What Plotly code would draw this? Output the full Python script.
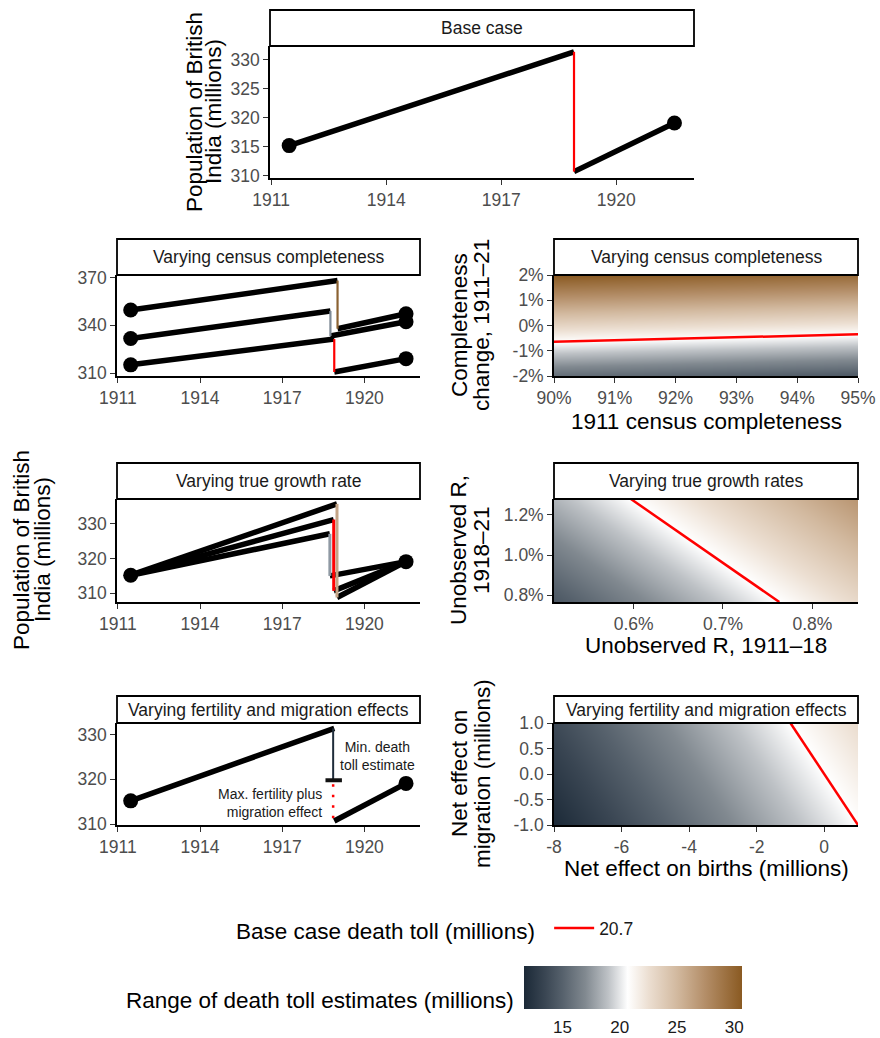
import plotly.graph_objects as go

W, H = 880, 1038
FONT = "Liberation Sans, Arial, Helvetica, sans-serif"

# ---------------- data ----------------
year_ticks = [1911, 1914, 1917, 1920]
year_range = [1910.97, 1922.03]
t_1911, t_1921 = 1911.47, 1921.52

# Base case
base_drop_t = 1918.90
base_pop_1911 = 315.2
base_pop_peak = 331.4
base_pop_trough = 310.7
base_pop_1921 = 319.1
base_death_toll = 20.7

# Varying census completeness (three scenarios)
comp_drop_t = [1919.02, 1918.76, 1918.90]
comp_pop_1911 = [349.6, 331.7, 315.2]
comp_pop_peak = [368.1, 349.0, 331.4]
comp_pop_trough = [337.9, 333.3, 310.7]
comp_pop_1921 = [347.3, 342.3, 319.1]
comp_drop_color = ["#8b6232", "#7e8a96", "#ff0000"]

# Varying true growth rate (three scenarios)
growth_drop_t = [1919.00, 1918.74, 1918.88]
growth_pop_peak = [335.7, 327.1, 331.2]
growth_pop_trough = [308.8, 315.0, 310.7]
growth_drop_color = ["#c4a587", "#8f99a3", "#ff0000"]

# Varying fertility and migration effects
fert_drop_t = 1918.86
fert_min_level = 319.8
fert_cap_x = [1918.58, 1919.18]
fert_label_min = "Min. death<br>toll estimate"
fert_label_min_pos = (1920.47, 325.3)
fert_label_max = "Max. fertility plus<br>migration effect"
fert_label_max_pos = (1918.52, 314.8)

# Heatmap: census completeness
comp_hm_x = [0.90, 0.95]
comp_hm_y = [-0.02, 0.0, 0.02]
comp_hm_z = [[15.6, 14.5], [23.1, 22.0], [30.7, 29.6]]
comp_line_x = [0.90, 0.95]
comp_line_y = [-0.0064, -0.0035]
comp_x_ticks = [0.90, 0.91, 0.92, 0.93, 0.94, 0.95]
comp_x_text = ["90%", "91%", "92%", "93%", "94%", "95%"]
comp_y_ticks = [-0.02, -0.01, 0.0, 0.01, 0.02]
comp_y_text = ["-2%", "-1%", "0%", "1%", "2%"]

# Heatmap: growth rates
gr_hm_x = [0.00511, 0.00851]
gr_hm_y = [0.00766, 0.01279]
gr_hm_z = [[14.4, 22.9], [18.55, 27.05]]
gr_line_x = [0.00597, 0.00763]
gr_line_y = [0.01279, 0.00766]
gr_x_ticks = [0.006, 0.007, 0.008]
gr_x_text = ["0.6%", "0.7%", "0.8%"]
gr_y_ticks = [0.008, 0.010, 0.012]
gr_y_text = ["0.8%", "1.0%", "1.2%"]

# Heatmap: fertility & migration
fm_hm_x = [-8.0, 1.0]
fm_hm_y = [-1.0, 1.0]
fm_hm_z = [[11.7, 20.7], [13.7, 22.7]]
fm_line_x = [-1.0, 1.0]
fm_line_y = [1.0, -1.0]
fm_x_ticks = [-8, -6, -4, -2, 0]
fm_x_text = ["-8", "-6", "-4", "-2", "0"]
fm_y_ticks = [-1.0, -0.5, 0.0, 0.5, 1.0]
fm_y_text = ["-1.0", "-0.5", "0.0", "0.5", "1.0"]

# colour scale for death toll (millions)
toll_min, toll_max = 11.65, 30.67
cs_vals = [11.65, 13.5, 15, 17, 19, 20.7, 22.5, 25, 27.5, 30.67]
cs_cols = ["#1b2937", "#3a4653", "#56616c", "#818990", "#bec2c6", "#ffffff",
           "#ecdfd2", "#d2b99f", "#b38d67", "#8a5a22"]
cbar_ticks = [15, 20, 25, 30]

# ---------------- layout geometry (pixels) ----------------
panels = {
    # name: (x0, x1, plot_top, plot_bottom, strip_top)
    "base": (270, 694, 46, 178, 10),
    "comp": (117, 420, 275, 376, 239),
    "comp_hm": (554, 858, 275, 376, 239),
    "grow": (117, 420, 499, 602, 463),
    "grow_hm": (554, 858, 499, 602, 463),
    "fert": (117, 420, 723, 825, 696),
    "fert_hm": (554, 858, 723, 825, 696),
}
strip_titles = {
    "base": "Base case",
    "comp": "Varying census completeness",
    "comp_hm": "Varying census completeness",
    "grow": "Varying true growth rate",
    "grow_hm": "Varying true growth rates",
    "fert": "Varying fertility and migration effects",
    "fert_hm": "Varying fertility and migration effects",
}
order = ["base", "comp", "comp_hm", "grow", "grow_hm", "fert", "fert_hm"]
ax_id = {n: i + 1 for i, n in enumerate(order)}


def px(x):
    return x / W


def py(y):
    return 1 - y / H


colorscale = [[(v - toll_min) / (toll_max - toll_min), c] for v, c in zip(cs_vals, cs_cols)]

fig = go.Figure()


def axes_ref(name):
    i = ax_id[name]
    return ("x" if i == 1 else f"x{i}"), ("y" if i == 1 else f"y{i}")


BLACK_W = 5.5
DROP_W = 2.2


def add_line(name, xs, ys, color="black", width=BLACK_W, dash=None, legend=False, lname=None):
    xr, yr = axes_ref(name)
    fig.add_trace(go.Scatter(x=xs, y=ys, mode="lines", xaxis=xr, yaxis=yr,
                             line=dict(color=color, width=width, dash=dash),
                             showlegend=legend, name=lname, hoverinfo="skip"))


def add_points(name, xs, ys):
    xr, yr = axes_ref(name)
    fig.add_trace(go.Scatter(x=xs, y=ys, mode="markers", xaxis=xr, yaxis=yr,
                             marker=dict(color="black", size=15), showlegend=False,
                             hoverinfo="skip"))


# ---- base case ----
add_line("base", [t_1911, base_drop_t], [base_pop_1911, base_pop_peak])
add_line("base", [base_drop_t, t_1921], [base_pop_trough, base_pop_1921])
add_line("base", [base_drop_t, base_drop_t], [base_pop_peak, base_pop_trough], color="red", width=DROP_W)
add_points("base", [t_1911, t_1921], [base_pop_1911, base_pop_1921])

# ---- census completeness lines ----
for i in range(3):
    add_line("comp", [t_1911, comp_drop_t[i]], [comp_pop_1911[i], comp_pop_peak[i]])
    add_line("comp", [comp_drop_t[i], t_1921], [comp_pop_trough[i], comp_pop_1921[i]])
for i in range(3):
    add_line("comp", [comp_drop_t[i], comp_drop_t[i]], [comp_pop_peak[i], comp_pop_trough[i]],
             color=comp_drop_color[i], width=DROP_W)
add_points("comp", [t_1911] * 3 + [t_1921] * 3, comp_pop_1911 + comp_pop_1921)

# ---- growth rate lines ----
for i in range(3):
    add_line("grow", [t_1911, growth_drop_t[i]], [base_pop_1911, growth_pop_peak[i]])
    add_line("grow", [growth_drop_t[i], t_1921], [growth_pop_trough[i], base_pop_1921])
for i in range(3):
    add_line("grow", [growth_drop_t[i], growth_drop_t[i]], [growth_pop_peak[i], growth_pop_trough[i]],
             color=growth_drop_color[i], width=DROP_W + 0.8)
add_points("grow", [t_1911, t_1921], [base_pop_1911, base_pop_1921])

# ---- fertility / migration lines ----
add_line("fert", [t_1911, base_drop_t], [base_pop_1911, base_pop_peak])
add_line("fert", [fert_drop_t, fert_drop_t], [base_pop_peak, fert_min_level], color="#1f2c3a", width=2)
add_line("fert", fert_cap_x, [fert_min_level, fert_min_level], color="#111111", width=4)
add_line("fert", [fert_drop_t, fert_drop_t], [fert_min_level - 0.9, base_pop_trough], color="red",
         width=2.5, dash="2.5px,8px")
add_line("fert", [base_drop_t, t_1921], [base_pop_trough, base_pop_1921])
add_points("fert", [t_1911, t_1921], [base_pop_1911, base_pop_1921])

# ---- heatmaps ----
def add_heat(name, x, y, z, show=False):
    xr, yr = axes_ref(name)
    kw = {}
    if show:
        kw["colorbar"] = dict(
            orientation="h", thickness=43, len=218, lenmode="pixels",
            x=px(633), xanchor="center", y=py(966), yanchor="top",
            xpad=0, ypad=0, outlinewidth=0,
            ticks="outside", ticklen=4, tickwidth=1, tickcolor="white",
            tickvals=cbar_ticks, tickfont=dict(size=17, color="#1a1a1a", family=FONT),
        )
    fig.add_trace(go.Heatmap(x=x, y=y, z=z, xaxis=xr, yaxis=yr, zsmooth="best",
                             colorscale=colorscale, zmin=toll_min, zmax=toll_max,
                             showscale=show, hoverinfo="skip", **kw))


add_heat("comp_hm", comp_hm_x, comp_hm_y, comp_hm_z)
add_line("comp_hm", comp_line_x, comp_line_y, color="red", width=2.5)
add_heat("grow_hm", gr_hm_x, gr_hm_y, gr_hm_z)
add_line("grow_hm", gr_line_x, gr_line_y, color="red", width=2.5)
add_heat("fert_hm", fm_hm_x, fm_hm_y, fm_hm_z, show=True)
add_line("fert_hm", fm_line_x, fm_line_y, color="red", width=2.5, legend=True,
         lname=f"{base_death_toll}")

# ---------------- axes ----------------
axis_common = dict(showline=True, linecolor="black", linewidth=1.6, ticks="outside",
                   ticklen=5, tickwidth=1.3, tickcolor="#333333", showgrid=False,
                   zeroline=False, tickfont=dict(size=17.5, color="#4d4d4d", family=FONT))

ranges = {
    "base": (year_range, [309.6, 332.4], year_ticks, None, [310, 315, 320, 325, 330], None),
    "comp": (year_range, [308.2, 371.6], year_ticks, None, [310, 340, 370], None),
    "comp_hm": ([0.90, 0.95], [-0.02, 0.02], comp_x_ticks, comp_x_text, comp_y_ticks, comp_y_text),
    "grow": (year_range, [307.5, 337.1], year_ticks, None, [310, 320, 330], None),
    "grow_hm": ([0.00511, 0.00851], [0.00766, 0.01279], gr_x_ticks, gr_x_text, gr_y_ticks, gr_y_text),
    "fert": (year_range, [309.8, 332.6], year_ticks, None, [310, 320, 330], None),
    "fert_hm": ([-8.0, 1.0], [-1.0, 1.0], fm_x_ticks, fm_x_text, fm_y_ticks, fm_y_text),
}

layout_axes = {}
for name in order:
    i = ax_id[name]
    x0, x1, yt, yb, st = panels[name]
    xr, yrg, xt, xtt, yt_, ytt = ranges[name]
    xkey = "xaxis" if i == 1 else f"xaxis{i}"
    ykey = "yaxis" if i == 1 else f"yaxis{i}"
    xa = dict(axis_common, domain=[px(x0), px(x1)], range=xr, tickvals=xt,
              anchor=("y" if i == 1 else f"y{i}"))
    if xtt:
        xa["ticktext"] = xtt
    ya = dict(axis_common, domain=[py(yb), py(yt)], range=yrg, tickvals=yt_,
              anchor=("x" if i == 1 else f"x{i}"))
    if ytt:
        ya["ticktext"] = ytt
    layout_axes[xkey] = xa
    layout_axes[ykey] = ya

# ---------------- strips ----------------
shapes = []
annotations = []
for name in order:
    x0, x1, yt, yb, st = panels[name]
    shapes.append(dict(type="rect", xref="paper", yref="paper", x0=px(x0), x1=px(x1),
                       y0=py(yt), y1=py(st), line=dict(color="black", width=1.8),
                       fillcolor="white", layer="above"))
    annotations.append(dict(text=strip_titles[name], x=px((x0 + x1) / 2), y=py((yt + st) / 2),
                            xref="paper", yref="paper", showarrow=False,
                            xanchor="center", yanchor="middle",
                            font=dict(size=17.5, color="#1a1a1a", family=FONT)))

# ---------------- axis titles ----------------
TITLE_FONT = dict(size=22.5, color="black", family=FONT)


def vtitle(text, x, y):
    annotations.append(dict(text=text, x=px(x), y=py(y), xref="paper", yref="paper",
                            showarrow=False, textangle=-90, font=TITLE_FONT,
                            xanchor="center", yanchor="middle"))


def htitle(text, x, y):
    annotations.append(dict(text=text, x=px(x), y=py(y), xref="paper", yref="paper",
                            showarrow=False, font=TITLE_FONT, xanchor="center", yanchor="middle"))


vtitle("Population of British", 195, 112)
vtitle("India (millions)", 214, 112)
vtitle("Population of British", 21, 550)
vtitle("India (millions)", 42, 550)
vtitle("Completeness", 459, 325)
vtitle("change, 1911–21", 481, 325)
vtitle("Unobserved R,", 458, 550)
vtitle("1918–21", 481, 550)
vtitle("Net effect on", 459, 774)
vtitle("migration (millions)", 482, 774)
htitle("1911 census completeness", 706, 421)
htitle("Unobserved R, 1911–18", 706, 645)
htitle("Net effect on births (millions)", 706, 868)

# fertility panel labels
annotations.append(dict(text=fert_label_min, x=fert_label_min_pos[0], y=fert_label_min_pos[1],
                        xref="x6", yref="y6", showarrow=False, align="center",
                        font=dict(size=14, color="#1a1a1a", family=FONT)))
annotations.append(dict(text=fert_label_max, x=fert_label_max_pos[0], y=fert_label_max_pos[1],
                        xref="x6", yref="y6", showarrow=False, align="right", xanchor="right",
                        font=dict(size=14, color="#1a1a1a", family=FONT)))

# colour bar title
annotations.append(dict(text="Range of death toll estimates (millions)", x=px(516), y=py(1000),
                        xref="paper", yref="paper", showarrow=False, xanchor="right",
                        yanchor="middle", font=TITLE_FONT))

fig.update_layout(
    width=W, height=H, autosize=False,
    margin=dict(l=0, r=0, t=0, b=0, pad=0, autoexpand=False),
    paper_bgcolor="white", plot_bgcolor="white",
    font=dict(family=FONT, color="#1a1a1a"),
    shapes=shapes, annotations=annotations,
    showlegend=True,
    legend=dict(orientation="h", x=px(234), xanchor="left", y=py(930), yanchor="middle",
                title=dict(text="Base case death toll (millions) ", side="left",
                           font=TITLE_FONT),
                font=dict(size=17.5, color="#1a1a1a", family=FONT),
                bgcolor="rgba(0,0,0,0)", itemwidth=40),
    **layout_axes,
)

fig.write_html("out.html", config={"displayModeBar": False},
               post_script="document.body.style.margin='0px';document.body.style.padding='0px';")
